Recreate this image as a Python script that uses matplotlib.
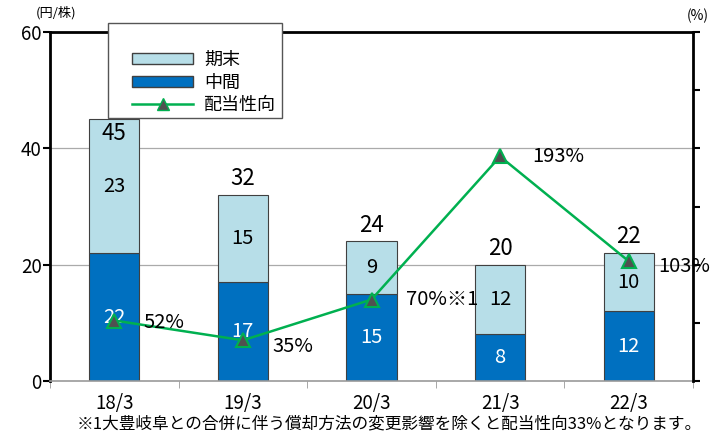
import matplotlib
matplotlib.use("Agg")
import matplotlib.pyplot as plt
from matplotlib.patches import Patch, Rectangle
from matplotlib.lines import Line2D
import numpy as np

plt.rcParams['font.family'] = ['Noto Sans CJK JP', 'DejaVu Sans']

categories = ["18/3", "19/3", "20/3", "21/3", "22/3"]
interim = [22, 17, 15, 8, 12]
year_end = [23, 15, 9, 12, 10]
totals = [45, 32, 24, 20, 22]
payout = [52, 35, 70, 193, 103]
payout_labels = ["52%", "35%", "70%※1", "193%", "103%"]
footnote = "※1大豊岐阜との合併に伴う償却方法の変更影響を除くと配当性向33%となります。"

dark = "#0070C0"
light = "#B7DEE8"
green = "#00B050"

W, H = 723, 434
fig = plt.figure(figsize=(7.23, 4.34), dpi=100)
ax = fig.add_axes([50/W, 53/H, 643/W, 349/H])
x = np.arange(len(categories))
w = 0.39
ax.bar(x, interim, w, color=dark, edgecolor="#404040", linewidth=0.8, zorder=2)
ax.bar(x, year_end, w, bottom=interim, color=light, edgecolor="#404040", linewidth=0.8, zorder=2)

ax.set_xlim(-0.5, len(categories) - 0.5)
ax.set_ylim(0, 60)
ax.set_yticks([0, 20, 40, 60])
ax.set_yticklabels(["0", "20", "40", "60"], fontsize=13.5)
ax.set_xticks(x)
ax.set_xticklabels(categories, fontsize=13.5)
ax.set_xticks(np.arange(len(categories) + 1) - 0.5, minor=True)
ax.tick_params(axis='x', which='major', length=0, pad=9)
ax.tick_params(axis='x', which='minor', length=5, color="#999999", direction='out')
ax.tick_params(axis='y', length=5, width=1.5, direction='out', pad=1)
for yv in [20, 40]:
    ax.axhline(yv, color="#AAAAAA", linewidth=0.9, zorder=0)
ax.spines['left'].set_linewidth(2)
ax.spines['top'].set_linewidth(2)
ax.spines['right'].set_visible(False)
ax.spines['bottom'].set_color("#999999")
ax.spines['bottom'].set_linewidth(1.2)

for i in range(len(categories)):
    ax.text(x[i], interim[i] / 2, str(interim[i]), ha='center', va='center', color='white', fontsize=14.5, zorder=5)
    ax.text(x[i], interim[i] + year_end[i] / 2, str(year_end[i]), ha='center', va='center', color='black', fontsize=14.5, zorder=5)
    if i == 0:
        ax.text(x[i], totals[i] - 2.5, str(totals[i]), ha='center', va='center', fontsize=16, zorder=5)
    else:
        ax.text(x[i], totals[i] + 2.8, str(totals[i]), ha='center', va='center', fontsize=16, zorder=5)

ax2 = ax.twinx()
ax2.set_ylim(0, 300)
ax2.set_yticks(np.arange(0, 301, 50))
ax2.set_yticklabels([])
ax2.tick_params(axis='y', length=5, width=1.5, direction='out')
ax2.spines['right'].set_linewidth(2)
for s in ['left', 'top', 'bottom']:
    ax2.spines[s].set_visible(False)
ax2.plot(x, payout, color=green, linewidth=1.8, marker='^', markersize=10,
         markerfacecolor="#505050", markeredgecolor=green, markeredgewidth=1.5, zorder=6)

offsets = [(0.23, -2), (0.23, -5), (0.27, 0), (0.25, 0), (0.23, -5)]
for i in range(len(categories)):
    dx, dy = offsets[i]
    ax2.text(x[i] + dx, payout[i] + dy, payout_labels[i], ha='left', va='center', fontsize=14.5, zorder=7)

# legend box
box = Rectangle((108/W, 1 - 118/H), (282-108)/W, (118-23)/H, transform=fig.transFigure,
                facecolor='white', edgecolor="#555555", linewidth=1.0, zorder=10)
fig.patches.append(box)
handles = [Patch(facecolor=light, edgecolor="#404040"),
           Patch(facecolor=dark, edgecolor="#404040"),
           Line2D([], [], color=green, marker='^', markerfacecolor="#505050", markeredgecolor=green, markersize=8, linewidth=1.8)]
labels = ["期末", "中間", "配当性向"]
leg = fig.legend(handles, labels, loc='upper left', bbox_to_anchor=(132/W, 1 - 51/H),
                 fontsize=13, frameon=False,
                 handlelength=3.4, handleheight=0.55, handletextpad=0.6, labelspacing=0.25,
                 borderpad=0, borderaxespad=0)
leg.set_zorder(11)

fig.text(36/W, 1 - 13/H, "(円/株)", fontsize=9.5, ha='left', va='center')
fig.text(698/W, 1 - 16/H, "(%)", fontsize=10, ha='center', va='center')
fig.text(389/W, 1 - 424/H, footnote, fontsize=12, ha='center', va='center')

fig.savefig("out.png", dpi=100)
